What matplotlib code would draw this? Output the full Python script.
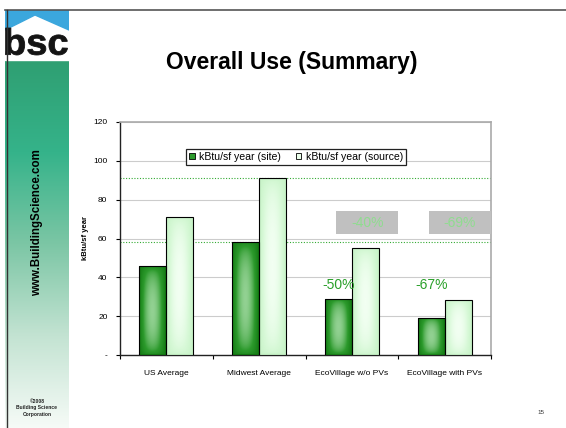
import numpy as np
import matplotlib.pyplot as plt
from matplotlib.colors import LinearSegmentedColormap
from matplotlib.patches import Rectangle, Polygon, Patch, PathPatch
from matplotlib.textpath import TextPath
from matplotlib.font_manager import FontProperties
from matplotlib.transforms import Affine2D

plt.rcParams['font.family'] = ['Liberation Sans', 'DejaVu Sans']

categories = ["US Average", "Midwest Average", "EcoVillage w/o PVs", "EcoVillage with PVs"]
site = [45.8, 58.0, 29.0, 19.3]      # kBtu/sf year (site)
source = [71.2, 91.0, 55.0, 28.3]    # kBtu/sf year (source)
site_pct = ["-50%", "-67%"]          # vs Midwest site, EcoVillage bars
source_pct = ["-40%", "-69%"]        # vs Midwest source, EcoVillage bars
yticks = [0, 20, 40, 60, 80, 100, 120]
ytick_labels = ["-", "20", "40", "60", "80", "100", "120"]

W, H = 566, 428
fig = plt.figure(figsize=(W / 100, H / 100), dpi=100)
fig.patch.set_facecolor("white")

# ---- side banner -------------------------------------------------------
side = fig.add_axes([5 / W, 0, 64 / W, (H - 10) / H])
side.set_xlim(0, 64)
side.set_ylim(H - 10, 0)
side.axis("off")
banner = LinearSegmentedColormap.from_list(
    "banner", ["#2f9f72", "#35b38a", "#7cc6a5", "#c3e3d2", "#f6fbf7"])
grad = np.linspace(0, 1, 256)[:, None]
side.imshow(grad, cmap=banner, extent=(0, 64, H - 10, 50), aspect="auto", zorder=0)
side.add_patch(Rectangle((0, 0), 64, 50, color="white", zorder=1))
side.add_patch(Polygon([(0, 0), (64, 0), (64, 20), (30, 5), (0, 20)],
                       closed=True, color="#3ba7dd", zorder=2))

# stretched "bsc" lettering, fitted into its box
tp = TextPath((0, 0), "bsc", size=10,
              prop=FontProperties(family="Liberation Sans", weight="bold"))
ext = tp.get_extents()
fit = (Affine2D().translate(-ext.x0, -ext.y0)
       .scale(62 / ext.width, -27 / ext.height).translate(0.5, 45))
side.add_patch(PathPatch(fit.transform_path(tp), facecolor="#141414",
                         edgecolor="#141414", lw=0.6, zorder=3))

side.text(32, 213, "www.BuildingScience.com", rotation=90, ha="center",
          va="center", fontsize=8.3, fontweight="bold", color="black")
side.text(32, 398, "\u00a92008\nBuilding Science\nCorporation", ha="center",
          va="center", fontsize=3.6, fontweight="bold", color="#222222",
          linespacing=1.3)

# frame lines at top and left
fig.add_artist(plt.Line2D([5 / W, 1], [1 - 10 / H, 1 - 10 / H],
                          color="#555555", lw=1.2))
fig.add_artist(plt.Line2D([7 / W, 7 / W], [0, 1 - 10 / H],
                          color="#333333", lw=1.0))

fig.text(292 / W, 1 - 62 / H, "Overall Use (Summary)", ha="center",
         va="center", fontsize=16.5, fontweight="bold")
fig.text(541 / W, 1 - 413 / H, "15", ha="center", va="center", fontsize=4.5,
         color="#333333")

# ---- chart ---------------------------------------------------------------
ax = fig.add_axes([120 / W, 1 - 355 / H, 371 / W, 233 / H])
x = np.arange(len(categories))
bw = 0.29

site_cmap = LinearSegmentedColormap.from_list("site", ["#137a13", "#2c9a2c", "#92d192"])
src_cmap = LinearSegmentedColormap.from_list("src", ["#c6f3c6", "#d8f9d8", "#f2fff2"])

gx, gy = np.meshgrid(np.linspace(-1, 1, 60), np.linspace(-1, 1, 120))
pillow = (1 - gx ** 2) * (1 - gy ** 2) ** 0.35


def shaded_bars(xpos, vals, cmap):
    bars = ax.bar(xpos, vals, bw, facecolor="none", edgecolor="black",
                  linewidth=0.8, zorder=4)
    for b in bars:
        im = ax.imshow(pillow, cmap=cmap, aspect="auto", zorder=3,
                       extent=(b.get_x(), b.get_x() + b.get_width(), 0, b.get_height()))
        im.set_clip_path(b)
    return bars


shaded_bars(x - bw / 2, site, site_cmap)
shaded_bars(x + bw / 2, source, src_cmap)

# reference lines at the Midwest values
ax.axhline(site[1], color="#33aa33", lw=0.8, ls=(0, (1, 1.5)), zorder=2)
ax.axhline(source[1], color="#33aa33", lw=0.8, ls=(0, (1, 1.5)), zorder=2)

for i, lab in enumerate(site_pct):
    ax.text(x[i + 2] - bw / 2, 36, lab, ha="center", va="center",
            fontsize=10, color="#2aa02a", zorder=6)
for i, lab in enumerate(source_pct):
    cx = x[i + 2] + 0.165
    ax.add_patch(Rectangle((cx - 0.335, 62.3), 0.67, 11.9, facecolor="#c0c0c0",
                           edgecolor="none", zorder=5))
    ax.text(cx, 68.2, lab, ha="center", va="center", fontsize=10,
            color="#8fdc8f", zorder=6)

ax.set_xlim(-0.5, len(categories) - 0.5)
ax.set_ylim(0, 120)
ax.set_yticks(yticks)
ax.set_yticklabels(ytick_labels, fontsize=6)
ax.set_xticks(np.arange(len(categories) + 1) - 0.5)
ax.set_xticklabels([])
ax.set_xticks(x, minor=True)
ax.set_xticklabels(categories, minor=True, fontsize=6)
ax.tick_params(axis="x", which="minor", length=0, pad=11)
ax.tick_params(axis="x", which="major", length=3, width=0.8)
ax.tick_params(axis="y", length=3, width=0.8, pad=6)
ax.yaxis.grid(True, color="#cccccc", lw=0.8, zorder=0)
ax.set_axisbelow(True)
for s in ("top", "right"):
    ax.spines[s].set_color("#aaaaaa")
    ax.spines[s].set_linewidth(1.2)
for s in ("left", "bottom"):
    ax.spines[s].set_color("#222222")
    ax.spines[s].set_linewidth(1.0)

ax.set_ylabel("kBtu/sf year", fontsize=5.5, fontweight="bold")
ax.yaxis.set_label_coords(-0.084, 0.5)

handles = [Patch(facecolor="#2c9a2c", edgecolor="black", lw=0.6),
           Patch(facecolor="#eafdea", edgecolor="black", lw=0.6)]
leg = ax.legend(handles, ["kBtu/sf year (site)", "kBtu/sf year (source)"],
                loc="center", bbox_to_anchor=(0.474, 0.85), ncol=2,
                fontsize=7.6, frameon=True, fancybox=False, framealpha=1,
                edgecolor="#222222", handlelength=0.55, handleheight=0.55,
                handletextpad=0.4, columnspacing=1.4, borderpad=0.3,
                borderaxespad=0)
leg.get_frame().set_linewidth(0.9)
leg.set_zorder(7)

fig.savefig("out.png", dpi=100)
